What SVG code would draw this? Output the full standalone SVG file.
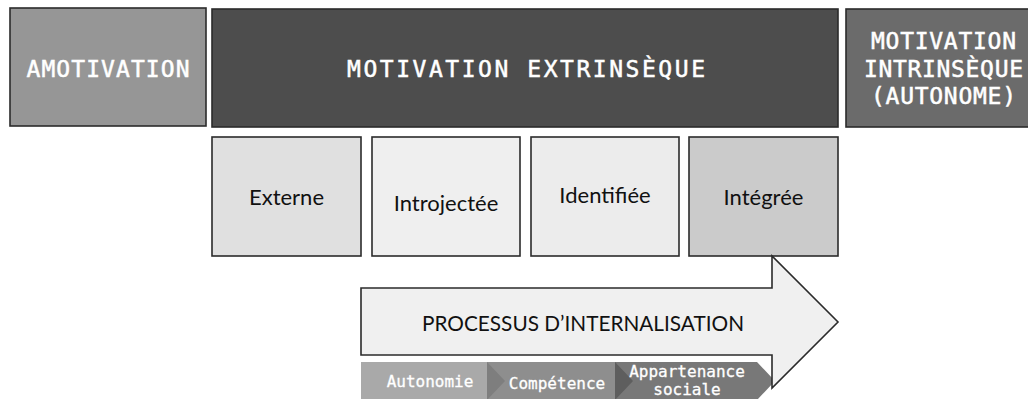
<svg xmlns="http://www.w3.org/2000/svg" width="1028" height="399" viewBox="0 0 1028 399">
  <style>
    .box { stroke: #2b2b2b; stroke-width: 1.6; }
    .head { font-family: "DejaVu Sans Mono", "Liberation Mono", monospace; fill: #ffffff; stroke: #ffffff; stroke-width: 0.5; font-size: 23px; text-anchor: middle; }
    .sub { font-family: Lato, "Open Sans", sans-serif; fill: #111111; font-size: 22px; text-anchor: middle; }
    .step { font-family: "DejaVu Sans Mono", "Liberation Mono", monospace; fill: #ffffff; stroke: #ffffff; stroke-width: 0.3; font-size: 16px; text-anchor: middle; }
  </style>
  <rect width="1028" height="399" fill="#ffffff"/>

  <!-- top row: motivation types -->
  <g id="amotivation">
    <rect class="box" x="10" y="8" width="196" height="118" fill="#969696"/>
    <text class="head" x="108" y="77" textLength="163" lengthAdjust="spacing">AMOTIVATION</text>
  </g>
  <g id="extrinseque">
    <rect class="box" x="212" y="9" width="626" height="118" fill="#4d4d4d"/>
    <text class="head" x="526" y="77" textLength="358" lengthAdjust="spacing">MOTIVATION EXTRINSÈQUE</text>
  </g>
  <g id="intrinseque">
    <rect class="box" x="846" y="9" width="196" height="118" fill="#6b6b6b"/>
    <text class="head" x="943.5" y="49" font-size="21.5" textLength="145" lengthAdjust="spacing">MOTIVATION</text>
    <text class="head" x="943.5" y="77" font-size="21.5" textLength="159" lengthAdjust="spacing">INTRINSÈQUE</text>
    <text class="head" x="943.5" y="104" font-size="21.5" textLength="145" lengthAdjust="spacing">(AUTONOME)</text>
  </g>

  <!-- regulation types -->
  <g id="externe">
    <rect class="box" x="212" y="137" width="149" height="119" fill="#e0e0e0"/>
    <text class="sub" x="286.5" y="205">Externe</text>
  </g>
  <g id="introjectee">
    <rect class="box" x="372" y="137" width="148" height="119" fill="#efefef"/>
    <text class="sub" x="446" y="211">Introjectée</text>
  </g>
  <g id="identifiee">
    <rect class="box" x="531" y="137" width="148" height="119" fill="#ececec"/>
    <text class="sub" x="605" y="203">Identifiée</text>
  </g>
  <g id="integree">
    <rect class="box" x="689" y="137" width="149" height="119" fill="#cbcbcb"/>
    <text class="sub" x="763.5" y="205">Intégrée</text>
  </g>

  <!-- basic needs bar -->
  <g id="autonomie">
    <rect x="361" y="362" width="127" height="38" fill="#a9a9a9"/>
    <text class="step" x="430" y="387">Autonomie</text>
  </g>
  <g id="competence">
    <rect x="487" y="362" width="129" height="38" fill="#8e8e8e"/>
    <polygon points="487,362 505,381 487,400" fill="#7e7e7e"/>
    <text class="step" x="557" y="389" font-size="16.5" stroke-width="0.7">Compétence</text>
  </g>
  <g id="appartenance">
    <polygon points="615,362 757,362 775,381 757,400 615,400" fill="#787878"/>
    <polygon points="615,362 633,381 615,400" fill="#5e5e5e"/>
    <text class="step" x="687" y="377">Appartenance</text>
    <text class="step" x="687" y="395">sociale</text>
  </g>

  <!-- internalisation arrow -->
  <g id="connectors">
    <g id="processus">
      <polygon class="box" points="361,288 772,288 772,256 838,322 772,388 772,355 361,355" fill="#f0f0f0"/>
      <text class="sub" x="583" y="331" font-size="22" textLength="322" lengthAdjust="spacingAndGlyphs">PROCESSUS D’INTERNALISATION</text>
    </g>
  </g>
</svg>
